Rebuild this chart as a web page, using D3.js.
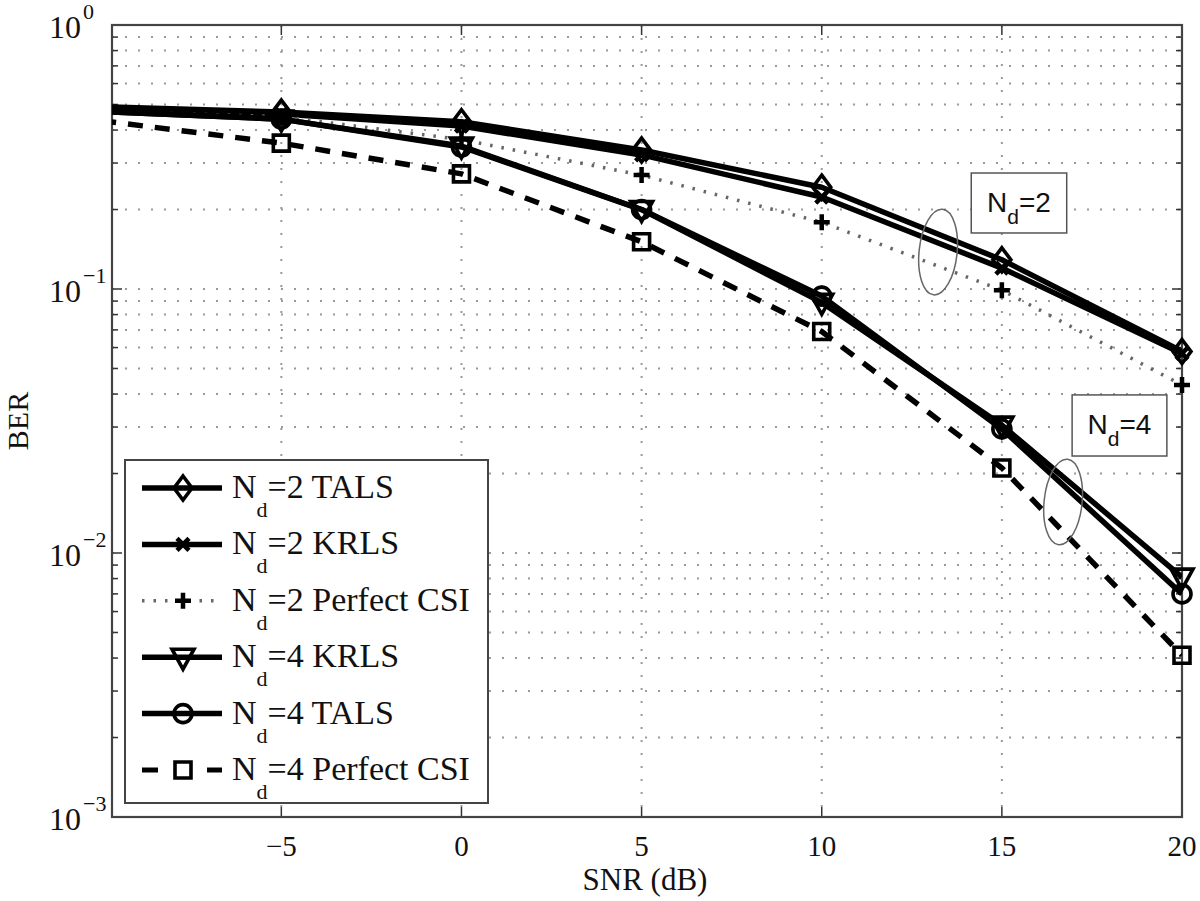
<!DOCTYPE html>
<html><head><meta charset="utf-8">
<script src="https://cdn.jsdelivr.net/npm/d3@7"></script>
<style>
html,body{margin:0;padding:0;background:#fff;}
svg{display:block;}
</style>
</head><body>
<svg id="c" width="1200" height="901"></svg>
<script>
// ---- data ----
const snr = [-10, -5, 0, 5, 10, 15, 20];
const nd2Tals = [0.49, 0.468, 0.43, 0.336, 0.243, 0.129, 0.058];
const nd2Krls = [0.485, 0.46, 0.414, 0.322, 0.223, 0.12, 0.057];
const nd2Csi  = [0.47, 0.45, 0.368, 0.27, 0.179, 0.099, 0.0433];
const nd4Krls = [0.47, 0.44, 0.348, 0.2, 0.089, 0.0305, 0.0081];
const nd4Tals = [0.47, 0.44, 0.345, 0.2, 0.094, 0.0295, 0.0070];
const nd4Csi  = [0.434, 0.357, 0.273, 0.151, 0.069, 0.021, 0.0041];
const seriesNames = ["=2 TALS", "=2 KRLS", "=2 Perfect CSI", "=4 KRLS", "=4 TALS", "=4 Perfect CSI"];
const xTicks = [-5, 0, 5, 10, 15, 20];
const xTickLabels = ["\u22125", "0", "5", "10", "15", "20"];
const yTicks = [1, 0.1, 0.01, 0.001];
const yTickExp = ["0", "\u22121", "\u22122", "\u22123"];
const xLabel = "SNR (dB)";
const yLabel = "BER";
// annotations (data units)
const notes = [
  {label: "=2", x0: 14.15, x1: 16.8, y0: 0.275, y1: 0.163, ex: 13.23, ey: 0.138},
  {label: "=4", x0: 16.95, x1: 19.58, y0: 0.0397, y1: 0.0233, ex: 16.7, ey: 0.0156}
];

// ---- layout ----
const L = 112, R = 1182, T = 25, B = 817;
const x = d3.scaleLinear().domain([-9.7, 20]).range([L, R]);
const y = d3.scaleLog().domain([1e-3, 1]).range([B, T]);

const svg = d3.select("#c");
const serif = "'Liberation Serif','Times New Roman',Times,serif";
const sans = "'Liberation Sans',Arial,Helvetica,sans-serif";

svg.append("defs").append("clipPath").attr("id", "clip")
  .append("rect").attr("x", L).attr("y", T).attr("width", R - L).attr("height", B - T);

// grid
const grid = svg.append("g").attr("stroke", "#9a9a9a").attr("stroke-width", 2).attr("stroke-dasharray", "2,11");
const minorY = [];
for (let e = -3; e < 0; e++) for (let m = 1; m < 10; m++) { const v = m * Math.pow(10, e); if (v > 1e-3) minorY.push(v); }
grid.selectAll("line.h").data(minorY).join("line")
  .attr("x1", L).attr("x2", R).attr("y1", d => y(d)).attr("y2", d => y(d));
grid.selectAll("line.v").data(xTicks.filter(d => d < 20)).join("line")
  .attr("x1", d => x(d)).attr("x2", d => x(d)).attr("y1", T).attr("y2", B);

// ticks
const tk = svg.append("g").attr("stroke", "#333").attr("stroke-width", 1.5);
xTicks.forEach(d => {
  tk.append("line").attr("x1", x(d)).attr("x2", x(d)).attr("y1", B).attr("y2", B - 10);
  tk.append("line").attr("x1", x(d)).attr("x2", x(d)).attr("y1", T).attr("y2", T + 10);
});
minorY.concat([1e-3, 1]).forEach(v => {
  const major = Math.abs(Math.log10(v) - Math.round(Math.log10(v))) < 1e-9;
  const len = major ? 10 : 6;
  tk.append("line").attr("x1", L).attr("x2", L + len).attr("y1", y(v)).attr("y2", y(v));
  tk.append("line").attr("x1", R).attr("x2", R - len).attr("y1", y(v)).attr("y2", y(v));
});

// box
svg.append("rect").attr("x", L).attr("y", T).attr("width", R - L).attr("height", B - T)
  .attr("fill", "none").attr("stroke", "#444").attr("stroke-width", 2.2);

// markers
function marker(g, type, cx, cy) {
  const s = g.append("path").attr("fill", "none").attr("stroke", "#000").attr("stroke-width", 3.6)
    .attr("transform", `translate(${cx},${cy})`);
  let p = "";
  if (type === "diamond") p = "M0,-12L9,0L0,12L-9,0Z";
  else if (type === "x") p = "M-6,-6L6,6M-6,6L6,-6";
  else if (type === "plus") p = "M-8,0L8,0M0,-8L0,8";
  else if (type === "tri") p = "M-11,-8L11,-8L0,12Z";
  else if (type === "circle") p = "M9,0A9,9 0 1,1 -9,0A9,9 0 1,1 9,0Z";
  else if (type === "square") p = "M-8,-8L8,-8L8,8L-8,8Z";
  s.attr("d", p);
  if (type === "plus") s.attr("stroke-width", 4.5);
  if (type === "x") s.attr("stroke-width", 4.5);
  return s;
}

const series = [
  {vals: nd2Tals, dash: null, w: 5.5, color: "#000", m: "diamond"},
  {vals: nd2Krls, dash: null, w: 5.5, color: "#000", m: "x"},
  {vals: nd2Csi, dash: "2.5,9", w: 3.5, color: "#666", m: "plus"},
  {vals: nd4Krls, dash: null, w: 5.5, color: "#000", m: "tri"},
  {vals: nd4Tals, dash: null, w: 5.5, color: "#000", m: "circle"},
  {vals: nd4Csi, dash: "15,12", w: 5.5, color: "#000", m: "square"}
];

const plot = svg.append("g").attr("clip-path", "url(#clip)");
const line = d3.line().x(d => x(d[0])).y(d => y(d[1]));
series.forEach(s => {
  const pts = snr.map((v, i) => [v, s.vals[i]]);
  const p = plot.append("path").attr("d", line(pts)).attr("fill", "none")
    .attr("stroke", s.color).attr("stroke-width", s.w).attr("stroke-linejoin", "round");
  if (s.dash) p.attr("stroke-dasharray", s.dash);
});
const mk = svg.append("g");
series.forEach(s => {
  snr.forEach((v, i) => { if (v >= -9.7) marker(mk, s.m, x(v), y(s.vals[i])); });
});

// annotations
notes.forEach(n => {
  const bx = x(n.x0), by = y(n.y0), bw = x(n.x1) - x(n.x0), bh = y(n.y1) - y(n.y0);
  svg.append("rect").attr("x", bx).attr("y", by).attr("width", bw).attr("height", bh)
    .attr("fill", "#fff").attr("stroke", "#555").attr("stroke-width", 1.5);
  const t = svg.append("text").attr("x", bx + bw / 2).attr("y", by + bh / 2 + 9)
    .attr("text-anchor", "middle").attr("font-family", sans).attr("font-size", 28).attr("fill", "#111");
  t.append("tspan").text("N");
  t.append("tspan").attr("font-size", 21).attr("dy", 12).text("d");
  t.append("tspan").attr("dy", -12).text(n.label);
  svg.append("ellipse").attr("cx", x(n.ex)).attr("cy", y(n.ey)).attr("rx", 19).attr("ry", 43)
    .attr("transform", `rotate(6,${x(n.ex)},${y(n.ey)})`)
    .attr("fill", "none").attr("stroke", "#666").attr("stroke-width", 1.5);
});

// tick labels
xTicks.forEach((d, i) => {
  svg.append("text").attr("x", x(d)).attr("y", 856).attr("text-anchor", "middle")
    .attr("font-family", serif).attr("font-size", 29).attr("fill", "#111").text(xTickLabels[i]);
});
yTicks.forEach((v, i) => {
  svg.append("text").attr("x", 81).attr("y", y(v) + 13).attr("text-anchor", "end")
    .attr("font-family", serif).attr("font-size", 32).attr("fill", "#111").text("10");
  svg.append("text").attr("x", 83).attr("y", y(v) - 6).attr("text-anchor", "start")
    .attr("font-family", serif).attr("font-size", 22).attr("fill", "#111").text(yTickExp[i]);
});
svg.append("text").attr("x", 645).attr("y", 890).attr("text-anchor", "middle")
  .attr("font-family", serif).attr("font-size", 31).attr("fill", "#111").text(xLabel);
svg.append("text").attr("transform", "translate(28,421) rotate(-90)").attr("text-anchor", "middle")
  .attr("font-family", serif).attr("font-size", 30).attr("fill", "#111").text(yLabel);

// legend
const lg = svg.append("g");
lg.append("rect").attr("x", 125).attr("y", 460).attr("width", 363).attr("height", 343)
  .attr("fill", "#fff").attr("stroke", "#444").attr("stroke-width", 2);
series.forEach((s, i) => {
  const cy = 488 + i * 56.4;
  if (s.m === "square") {
    lg.append("line").attr("x1", 142).attr("x2", 158).attr("y1", cy).attr("y2", cy).attr("stroke", "#000").attr("stroke-width", 5);
    lg.append("line").attr("x1", 207).attr("x2", 222).attr("y1", cy).attr("y2", cy).attr("stroke", "#000").attr("stroke-width", 5);
  } else {
    const l = lg.append("line").attr("x1", 142).attr("x2", 222).attr("y1", cy).attr("y2", cy)
      .attr("stroke", s.color).attr("stroke-width", s.w);
    if (s.dash) l.attr("stroke-dasharray", s.dash);
  }
  marker(lg, s.m, 183, cy);
  const t = lg.append("text").attr("x", 232).attr("y", cy + 10).attr("font-family", serif)
    .attr("font-size", 34).attr("fill", "#111");
  t.append("tspan").text("N");
  t.append("tspan").attr("font-size", 22).attr("dy", 19).text("d");
  t.append("tspan").attr("dy", -19).text(seriesNames[i]);
});
</script>
</body></html>
